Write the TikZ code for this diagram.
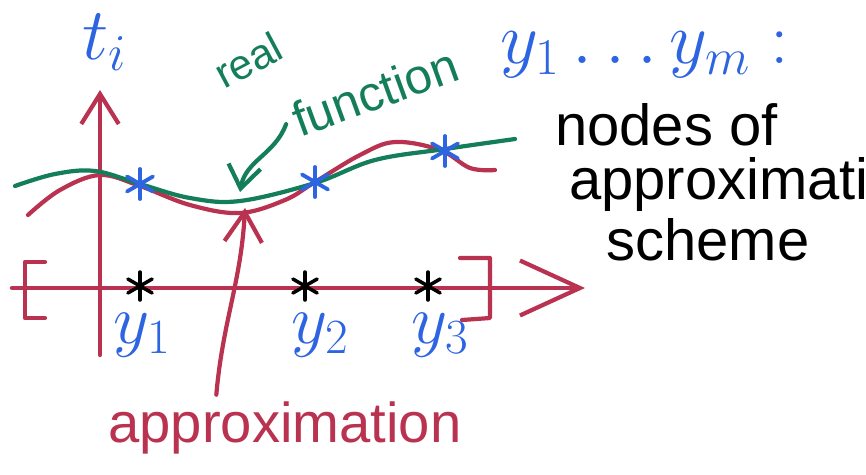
\documentclass[tikz,border=0pt]{standalone}
\usepackage{fix-cm}
\usepackage{fontspec}
\setmainfont{Liberation Sans}
\usetikzlibrary{arrows.meta,positioning}
\definecolor{skred}{RGB}{185,50,80}
\definecolor{skgreen}{RGB}{20,125,90}
\definecolor{skblue}{RGB}{45,100,225}
\begin{document}
\begin{tikzpicture}[x=0.02cm,y=-0.02cm,line width=2.4pt,line cap=round,line join=round,
    lbl/.style={inner sep=0pt,font=\fontsize{33}{38}\selectfont}]
  \useasboundingbox (0,0) rectangle (866,474);
  \clip (0,0) rectangle (866,474);
  %% axes
  \coordinate (xa) at (12,288);
  \coordinate (xb) at (585,288);
  \coordinate (ya) at (100,355);
  \coordinate (yb) at (100,90);
  \draw[skred,-{Straight Barb[length=1.2cm,width=1.1cm]}] (xa) -- (xb);
  \draw[skred,-{Straight Barb[length=0.6cm,width=0.75cm]}] (ya) -- (yb);
  \draw[skred] (45,262) -- (25,262) -- (25,318) -- (45,318);
  \draw[skred] (460,258) -- (490,258) -- (490,318) -- (462,320);
  %% curves
  \draw[skred] plot[smooth,tension=0.6] coordinates {(28,215) (60,190) (100,175) (140,186)
    (190,205) (240,213) (285,200) (315,182) (360,155) (395,142) (440,150) (470,168) (495,170)};
  \draw[skgreen] plot[smooth,tension=0.6] coordinates {(15,186) (55,174) (95,171) (140,184)
    (190,198) (240,201) (315,183) (375,160) (445,149) (515,139)};
  %% nodes
  \foreach \sx in {140,305,428}
    \foreach \a in {90,30,150}
      \draw[black,line width=2pt] (\sx,286) +(\a:14) -- +(\a+180:14);
  \foreach \sx/\sy in {140/184,315/182,445/151}
    \foreach \a in {90,30,150}
      \draw[skblue,line width=2.2pt] (\sx,\sy) +(\a:15) -- +(\a+180:15);
  \node[lbl,skblue,font=\fontsize{40}{44}\selectfont] (y1) at (142,335) {$y_1$};
  \node[lbl,skblue,font=\fontsize{40}{44}\selectfont] (y2) at (320,335) {$y_2$};
  \node[lbl,skblue,font=\fontsize{40}{44}\selectfont] (y3) at (440,335) {$y_3$};
  %% labels
  \node[lbl,skblue,font=\fontsize{42}{46}\selectfont] (ti) at (105,42) {$t_i$};
  \node[lbl,skblue,font=\fontsize{42}{46}\selectfont] (ym) at (645,55) {$y_1\ldots y_m:$};
  \node[lbl,black,anchor=west] (nodes) at (553,125) {nodes of};
  \node[lbl,black,anchor=west] (appx) at (567,185) {approximation};
  \node[lbl,black] (scheme) at (708,240) {scheme};
  \node[lbl,skgreen,rotate=28,font=\fontsize{24}{28}\selectfont] (real) at (248,60) {real};
  \node[lbl,skgreen,rotate=20,font=\fontsize{28}{32}\selectfont] (func) at (375,92) {function};
  \node[lbl,skred,font=\fontsize{32}{36}\selectfont] (appr) at (285,428) {approximation};
  %% pointers
  \coordinate (gtip) at (240,192);
  \coordinate (rtip) at (245,208);
  \draw[skgreen,-{Straight Barb[length=0.45cm,width=0.65cm]}] (func.west) ++(-6,2) to[out=-110,in=80] (gtip);
  \draw[skred,-{Straight Barb[length=0.6cm,width=0.75cm]}] (appr.north west) ++(110,-5) to[out=85,in=-93] (rtip);
\end{tikzpicture}
\end{document}
